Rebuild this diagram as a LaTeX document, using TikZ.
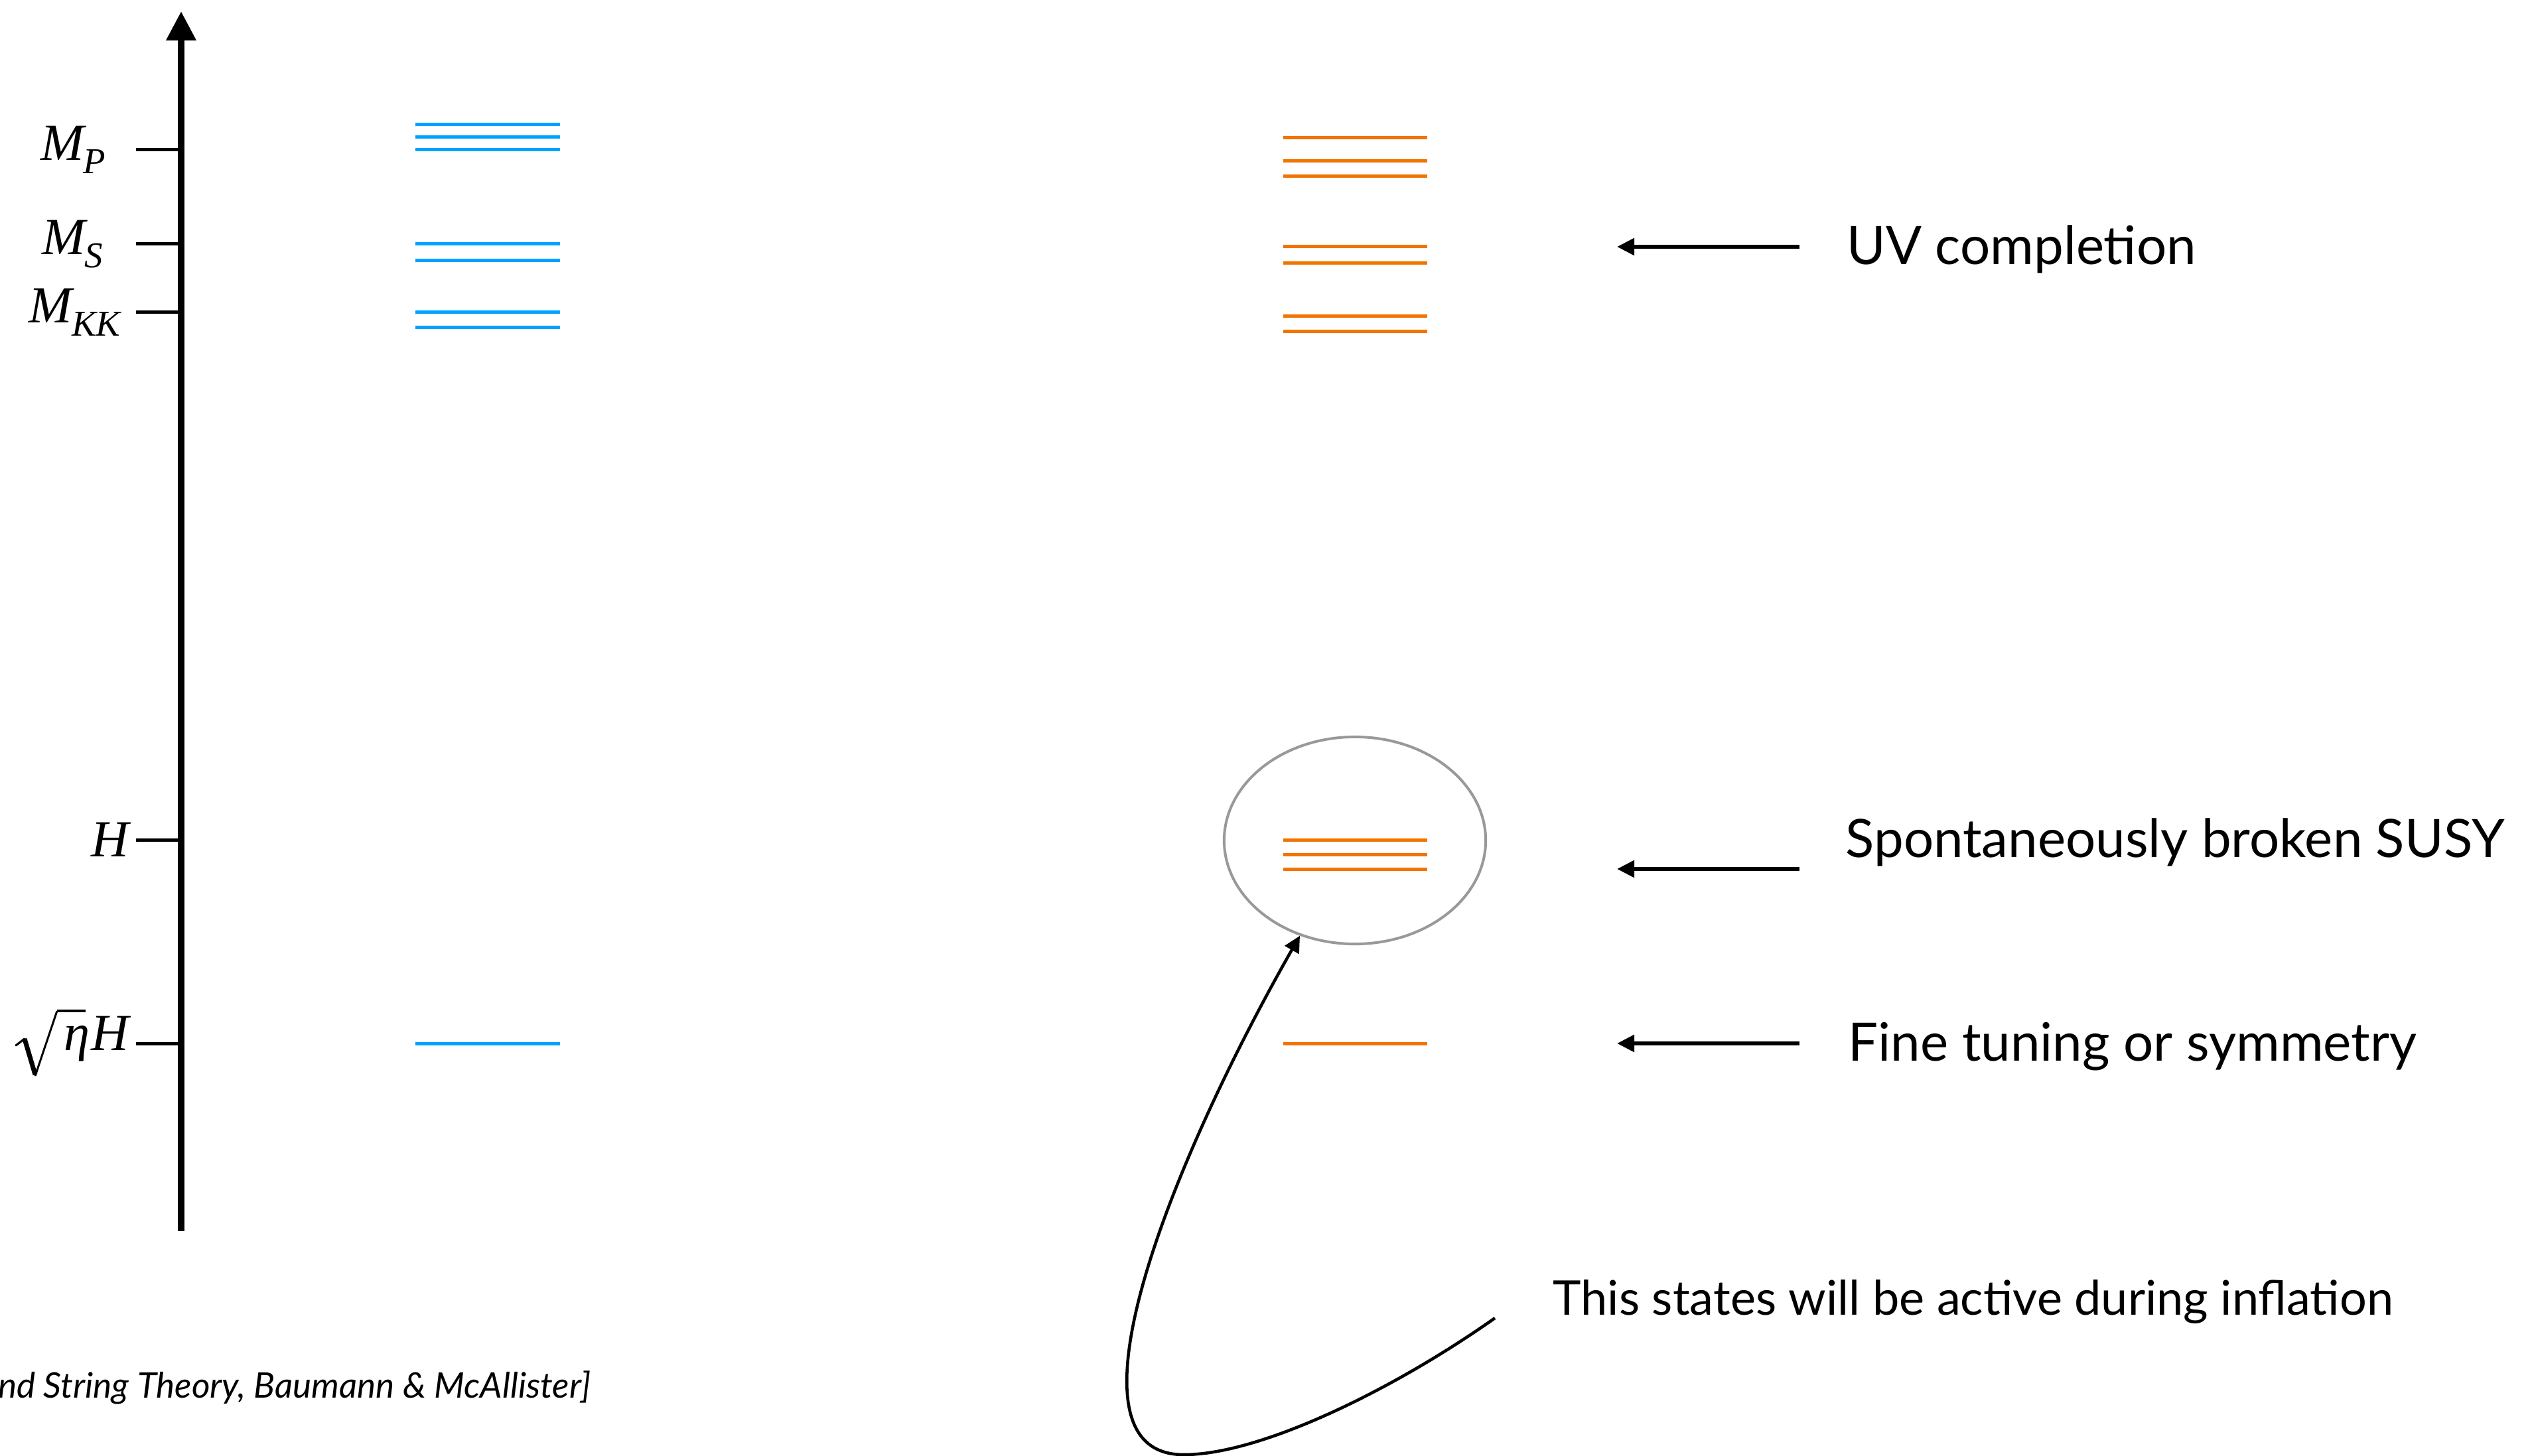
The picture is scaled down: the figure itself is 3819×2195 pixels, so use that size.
\documentclass[tikz,border=0pt]{standalone}
\usepackage{fontspec}
\usetikzlibrary{arrows.meta,shapes.geometric}
\newfontfamily\capfont{Lato}
\newfontfamily\mathlike{Liberation Serif}
\definecolor{levelblue}{RGB}{0,162,255}
\definecolor{levelorange}{RGB}{242,116,0}
\definecolor{ringgray}{RGB}{153,153,153}
% mass label with a lowered subscript
\newcommand\Msub[1]{M\kern-0.01em\raisebox{-0.25em}{\fontsize{15.6}{16}\selectfont #1}}
\tikzset{
  axisline/.style={line width=2.85pt, -{Triangle[length=12.5pt,width=12.2pt]}},
  tickline/.style={line width=1.42pt},
  bluelevel/.style={levelblue, line width=1.42pt},
  orangelevel/.style={levelorange, line width=1.42pt},
  pointer/.style={line width=1.7pt, -{Triangle[length=7.4pt,width=7.1pt]}},
  scalelabel/.style={anchor=east, inner sep=0pt, font={\mathlike\itshape\fontsize{22.3}{27}\selectfont}},
  note/.style={anchor=base west, inner sep=0pt, font={\capfont\fontsize{22.7}{27}\selectfont}},
}
\begin{document}
\begin{tikzpicture}[x=0.01cm, y=-0.01cm]
  \path[use as bounding box, clip] (0,0) rectangle (3819,2195);
  \fill[white] (0,0) rectangle (3819,2195);

  % energy axis
  \coordinate (axbot) at (273,1856);
  \coordinate (axtop) at (273,17);
  \draw[axisline] (axbot) -- (axtop);

  % scale ticks and labels
  \foreach \yy in {226,368,471,1266,1573}
    \draw[tickline] (205,\yy) -- (268,\yy);
  \node[scalelabel] (lMP)  at (160,226)  {\Msub{P}};
  \node[scalelabel] (lMS)  at (156,368)  {\Msub{S}};
  \node[scalelabel] (lMKK) at (182,471)  {\Msub{KK}};
  \node[scalelabel] (lH)   at (195,1266) {H};
  \node[scalelabel, anchor=base east] (lsH) at (195,1583) {η\kern0.03em H};
  % radical sign over the eta
  \draw[line width=0.9pt, line cap=round] (24,1576) -- (37,1566);
  \draw[line width=2pt] (37,1566) -- (53,1620);
  \draw[line width=0.85pt] (53,1622) -- (86,1524);
  \draw[line width=1.2pt] (85.6,1524) -- (129,1524);

  % spectrum of the effective theory
  \foreach \yy in {188,207,226,368,393,471,494,1573}
    \draw[bluelevel] (626,\yy) -- (844,\yy);

  % spectrum of the full theory
  \foreach \yy in {208,243,266,372,397,477,500,1266,1288,1310,1573}
    \draw[orangelevel] (1934,\yy) -- (2151,\yy);

  % light states singled out
  \node[ellipse, draw=ringgray, line width=1.14pt, inner sep=0pt,
        minimum width=3.94cm, minimum height=3.12cm] (ring) at (2042,1267) {};

  % annotations
  \node[note] (uv)   at (2783,399)  {UV completion};
  \node[note] (susy) at (2781,1292) {Spontaneously broken SUSY};
  \node[note] (fine) at (2785,1599) {Fine tuning or symmetry};
  \node[note, font={\capfont\fontsize{20.5}{25}\selectfont}] (active) at (2340,1982)
    {This states will be active during inflation};

  \coordinate (uvtail) at (2712,372);   \coordinate (uvhead) at (2437,372);
  \coordinate (susytail) at (2712,1310); \coordinate (susyhead) at (2437,1310);
  \coordinate (finetail) at (2712,1573); \coordinate (finehead) at (2437,1573);
  \draw[pointer] (uvtail) -- (uvhead);
  \draw[pointer] (susytail) -- (susyhead);
  \draw[pointer] (finetail) -- (finehead);

  \coordinate (loopstart) at (2253,1987);
  \draw[line width=1.3pt, -{Triangle[length=7pt,width=6.8pt]}]
    (loopstart) .. controls (2100,2095) and (1900,2193) .. (1784,2193)
                .. controls (1590,2193) and (1760,1760) .. (ring.240);

  % reference
  \node[anchor=base east, inner sep=0pt, font={\capfont\itshape\fontsize{15.1}{18}\selectfont}]
    (cite) at (891,2107) {and String Theory, Baumann \& McAllister]};
\end{tikzpicture}
\end{document}
